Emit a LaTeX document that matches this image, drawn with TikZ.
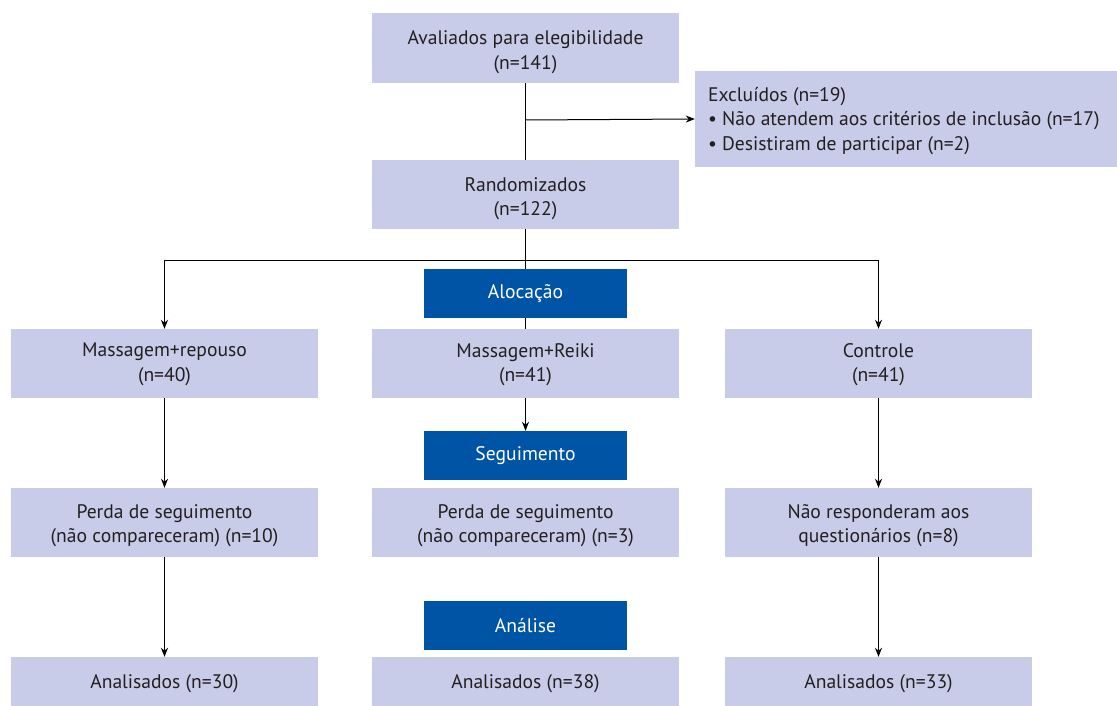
\documentclass[tikz,border=0pt]{standalone}
\usepackage{fontspec}
\setmainfont{PT Sans}
\usetikzlibrary{arrows.meta}
\definecolor{boxfill}{RGB}{200,204,232}
\definecolor{darkblue}{RGB}{0,84,166}
\definecolor{txt}{RGB}{35,31,32}
\tikzset{
  lbox/.style={fill=boxfill, draw=none, inner sep=0pt, minimum width=307pt, minimum height=69pt},
  dbox/.style={fill=darkblue, draw=none, inner sep=0pt, minimum width=203pt, minimum height=49pt, align=center, text=white, font=\fontsize{19.6}{24}\selectfont},
  ltext/.style={inner sep=0pt, align=center, text=txt, font=\fontsize{19.6}{24.5}\selectfont},
  conn/.style={draw=black, line width=1pt},
  arr/.style={conn, -{Stealth[length=9pt, width=7pt]}}
}
\newcommand\tbox[5]{%
  \node[lbox,#2] (#1) at (#3) {};
  \node[ltext] (#1-t) at ([yshift=#4]#1.center) {#5};}
\begin{document}
\begin{tikzpicture}[x=1pt, y=-1pt]
\useasboundingbox (0,0) rectangle (1117,706);
\coordinate (split1) at (525.5,120);
\coordinate (splitL) at (164.5,260);
\coordinate (splitR) at (878.5,260);
\tbox{top}{minimum height=70pt}{525.5,48}{-4pt}{Avaliados para elegibilidade\\(n=141)}
\tbox{rand}{}{525.5,194.5}{-4pt}{Randomizados\\(n=122)}
\node[lbox, minimum width=422pt, minimum height=96pt] (excl) at (906,119) {};
\node[ltext, align=left, anchor=west] (excl-t) at ([xshift=13pt, yshift=-2pt]excl.west) {Excluídos (n=19)\\• Não atendem aos critérios de inclusão (n=17)\\• Desistiram de participar (n=2)};
\tbox{l1}{}{164.5,363.5}{-1pt}{Massagem+repouso\\(n=40)}
\tbox{m1}{}{525.5,363.5}{-1pt}{Massagem+Reiki\\(n=41)}
\tbox{r1}{}{878.5,363.5}{-1pt}{Controle\\(n=41)}
\tbox{l2}{}{164.5,522.5}{-3pt}{Perda de seguimento\\(não compareceram) (n=10)}
\tbox{m2}{}{525.5,522.5}{-3pt}{Perda de seguimento\\(não compareceram) (n=3)}
\tbox{r2}{}{878.5,522.5}{-3pt}{Não responderam aos\\questionários (n=8)}
\tbox{l3}{minimum height=49pt}{164.5,681.5}{-2.5pt}{Analisados (n=30)}
\tbox{m3}{minimum height=49pt}{525.5,681.5}{-2.5pt}{Analisados (n=38)}
\tbox{r3}{minimum height=49pt}{878.5,681.5}{-2.5pt}{Analisados (n=33)}
\draw[conn] (top.south) -- (rand.north);
\draw[arr] (split1) -- (excl.west);
\draw[conn] (rand.south) -- (m1.north);
\draw[conn] (splitL) -- (splitR);
\draw[arr] (splitL) -- (l1.north);
\draw[arr] (splitR) -- (r1.north);
\draw[arr] (l1.south) -- (l2.north);
\draw[arr] (r1.south) -- (r2.north);
\draw[arr] (l2.south) -- (l3.north);
\draw[arr] (r2.south) -- (r3.north);
\node[dbox] (aloc) at (525.5,293.5) {Alocação};
\node[dbox] (seg) at (525.5,455.5) {Seguimento};
\node[dbox] (anal) at (525.5,625.5) {Análise};
\draw[arr] (m1.south) -- (seg.north);
\end{tikzpicture}
\end{document}
